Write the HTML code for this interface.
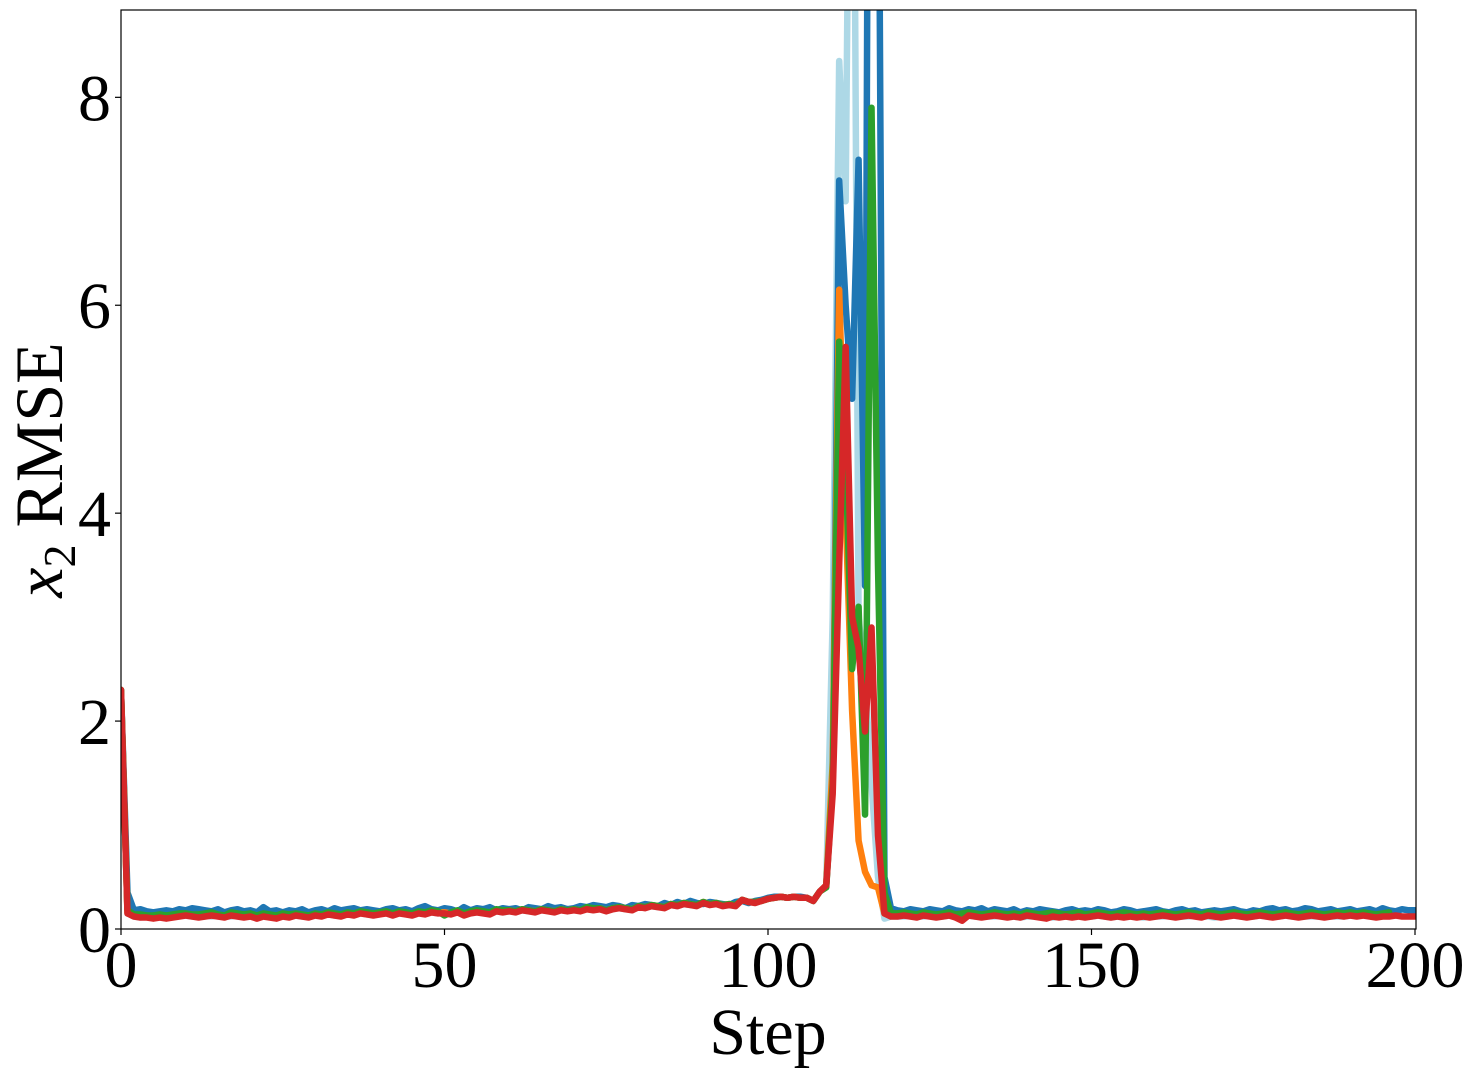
<!DOCTYPE html>
<html><head><meta charset="utf-8"><style>
body{margin:0;background:#fff;}
svg{display:block;font-family:"Liberation Serif",serif;}
</style></head><body>
<svg id="chart" width="1475" height="1076" viewBox="0 0 1475 1076" xmlns="http://www.w3.org/2000/svg">
<defs><clipPath id="clip"><rect x="121" y="10" width="1295" height="919"/></clipPath></defs>
<rect x="0" y="0" width="1475" height="1076" fill="#fff"/>
<g id="series" clip-path="url(#clip)"></g>
<rect x="121" y="10" width="1295" height="919" fill="none" stroke="#000" stroke-width="1.2"/>
<g id="axes"></g>
<text x="768" y="1054" font-size="66" text-anchor="middle">Step</text>
<text transform="translate(62,470) rotate(-90)" font-size="68" text-anchor="middle"><tspan font-style="italic">x</tspan><tspan font-size="46" dy="13">2</tspan><tspan dy="-13"> RMSE</tspan></text>
</svg>
<script>
const xTicks=[0,50,100,150,200];
const yTicks=[0,2,4,6,8];
const lightBlue=[2.3,0.15,0.12,0.11,0.12,0.11,0.12,0.11,0.12,0.13,0.13,0.12,0.12,0.13,0.12,0.13,0.12,0.12,0.13,0.12,0.12,0.11,0.13,0.12,0.11,0.12,0.12,0.13,0.12,0.12,0.14,0.13,0.14,0.13,0.13,0.14,0.14,0.15,0.14,0.14,0.15,0.15,0.14,0.15,0.15,0.14,0.16,0.15,0.16,0.15,0.16,0.15,0.16,0.15,0.16,0.16,0.16,0.15,0.17,0.16,0.17,0.17,0.18,0.17,0.17,0.18,0.18,0.17,0.18,0.18,0.19,0.18,0.2,0.19,0.19,0.18,0.2,0.2,0.19,0.19,0.21,0.21,0.22,0.21,0.21,0.23,0.22,0.24,0.23,0.23,0.25,0.24,0.24,0.23,0.23,0.23,0.28,0.26,0.26,0.27,0.29,0.3,0.31,0.3,0.31,0.3,0.3,0.27,0.36,0.42,3.0,8.35,7,14,3.0,2.4,1.4,0.5,0.1,0.12,0.12,0.12,0.13,0.12,0.12,0.13,0.12,0.12,0.13,0.12,0.12,0.13,0.12,0.13,0.12,0.12,0.13,0.12,0.12,0.11,0.12,0.12,0.13,0.12,0.11,0.12,0.12,0.12,0.13,0.12,0.12,0.13,0.12,0.11,0.12,0.12,0.13,0.12,0.11,0.12,0.12,0.12,0.13,0.12,0.12,0.12,0.13,0.12,0.12,0.11,0.12,0.12,0.13,0.12,0.12,0.12,0.13,0.12,0.12,0.12,0.13,0.12,0.13,0.12,0.12,0.12,0.13,0.12,0.12,0.12,0.13];
const blue=[2.3,0.35,0.18,0.19,0.17,0.16,0.17,0.18,0.17,0.19,0.18,0.2,0.19,0.18,0.17,0.19,0.16,0.18,0.19,0.17,0.18,0.16,0.21,0.17,0.18,0.16,0.18,0.17,0.19,0.16,0.18,0.19,0.17,0.2,0.18,0.19,0.2,0.18,0.19,0.18,0.17,0.19,0.2,0.18,0.19,0.17,0.2,0.22,0.19,0.18,0.2,0.19,0.17,0.21,0.18,0.2,0.19,0.21,0.18,0.2,0.19,0.2,0.18,0.21,0.2,0.19,0.22,0.2,0.21,0.19,0.2,0.22,0.21,0.23,0.22,0.21,0.23,0.22,0.2,0.23,0.22,0.24,0.23,0.22,0.25,0.23,0.26,0.24,0.27,0.25,0.24,0.26,0.25,0.24,0.23,0.26,0.27,0.25,0.27,0.28,0.3,0.31,0.31,0.3,0.31,0.31,0.3,0.27,0.36,0.42,1.4,7.2,6.0,5.1,7.4,3.3,20,12,0.5,0.2,0.18,0.17,0.19,0.18,0.17,0.19,0.18,0.17,0.2,0.18,0.17,0.19,0.18,0.2,0.17,0.19,0.18,0.17,0.19,0.16,0.18,0.17,0.19,0.18,0.17,0.16,0.18,0.19,0.17,0.18,0.17,0.19,0.18,0.16,0.17,0.19,0.18,0.16,0.17,0.18,0.19,0.17,0.16,0.18,0.19,0.17,0.18,0.16,0.17,0.18,0.17,0.18,0.19,0.17,0.16,0.18,0.17,0.19,0.2,0.18,0.19,0.17,0.18,0.2,0.19,0.17,0.18,0.19,0.17,0.18,0.19,0.17,0.18,0.19,0.17,0.2,0.18,0.17,0.19,0.18,0.18];
const orange=[2.3,0.16,0.13,0.12,0.12,0.11,0.12,0.11,0.12,0.13,0.14,0.13,0.12,0.13,0.14,0.13,0.12,0.14,0.13,0.12,0.13,0.11,0.13,0.12,0.11,0.13,0.12,0.14,0.13,0.12,0.14,0.13,0.15,0.14,0.13,0.15,0.14,0.16,0.15,0.14,0.15,0.16,0.14,0.16,0.15,0.14,0.16,0.15,0.17,0.16,0.16,0.15,0.17,0.14,0.16,0.17,0.16,0.15,0.18,0.17,0.18,0.17,0.19,0.18,0.17,0.19,0.18,0.17,0.19,0.18,0.19,0.18,0.2,0.19,0.2,0.18,0.2,0.21,0.2,0.19,0.22,0.21,0.23,0.22,0.21,0.24,0.23,0.25,0.24,0.23,0.26,0.24,0.25,0.23,0.24,0.23,0.28,0.26,0.26,0.27,0.29,0.3,0.31,0.3,0.31,0.3,0.3,0.27,0.36,0.42,1.6,6.15,4.0,2.1,0.85,0.55,0.42,0.4,0.15,0.13,0.13,0.14,0.13,0.12,0.14,0.13,0.12,0.13,0.14,0.12,0.13,0.14,0.13,0.12,0.13,0.14,0.13,0.12,0.13,0.12,0.14,0.13,0.12,0.13,0.14,0.13,0.12,0.13,0.14,0.12,0.13,0.14,0.13,0.12,0.13,0.14,0.13,0.12,0.13,0.12,0.13,0.14,0.13,0.12,0.13,0.14,0.13,0.12,0.14,0.13,0.12,0.13,0.14,0.13,0.12,0.13,0.14,0.13,0.12,0.13,0.14,0.13,0.12,0.13,0.14,0.13,0.12,0.13,0.14,0.13,0.14,0.13,0.14,0.13,0.12,0.13,0.14];
const green=[2.3,0.18,0.14,0.14,0.13,0.13,0.14,0.13,0.14,0.15,0.15,0.14,0.14,0.15,0.16,0.14,0.13,0.16,0.15,0.14,0.15,0.13,0.15,0.14,0.13,0.15,0.14,0.15,0.14,0.13,0.15,0.14,0.16,0.15,0.14,0.16,0.15,0.17,0.16,0.15,0.16,0.17,0.15,0.17,0.16,0.15,0.17,0.16,0.18,0.17,0.13,0.16,0.18,0.15,0.17,0.18,0.17,0.16,0.19,0.18,0.18,0.17,0.19,0.18,0.17,0.19,0.18,0.17,0.19,0.18,0.19,0.18,0.21,0.2,0.2,0.18,0.2,0.21,0.2,0.19,0.22,0.21,0.23,0.22,0.21,0.24,0.23,0.25,0.24,0.23,0.26,0.24,0.25,0.23,0.24,0.23,0.28,0.26,0.26,0.27,0.29,0.3,0.31,0.3,0.31,0.3,0.3,0.27,0.36,0.4,1.4,5.65,4.5,2.5,3.1,1.1,7.9,3.5,0.35,0.15,0.15,0.16,0.15,0.14,0.16,0.15,0.14,0.15,0.16,0.14,0.15,0.16,0.15,0.14,0.15,0.16,0.15,0.14,0.15,0.14,0.16,0.15,0.14,0.15,0.16,0.15,0.14,0.15,0.16,0.14,0.15,0.16,0.15,0.14,0.15,0.16,0.15,0.14,0.15,0.14,0.15,0.16,0.15,0.14,0.15,0.16,0.15,0.14,0.16,0.15,0.14,0.15,0.16,0.15,0.14,0.15,0.16,0.15,0.14,0.15,0.16,0.15,0.14,0.15,0.16,0.15,0.14,0.15,0.16,0.15,0.16,0.15,0.16,0.15,0.14,0.15,0.16];
const red=[2.3,0.15,0.12,0.11,0.11,0.1,0.11,0.1,0.11,0.12,0.13,0.12,0.11,0.12,0.13,0.12,0.11,0.13,0.12,0.11,0.12,0.1,0.12,0.11,0.1,0.12,0.11,0.13,0.12,0.11,0.13,0.12,0.14,0.13,0.12,0.14,0.13,0.15,0.14,0.13,0.14,0.15,0.13,0.15,0.14,0.13,0.15,0.14,0.16,0.15,0.15,0.14,0.16,0.13,0.15,0.16,0.15,0.14,0.17,0.16,0.17,0.16,0.18,0.17,0.16,0.18,0.17,0.16,0.18,0.17,0.18,0.17,0.19,0.18,0.19,0.17,0.19,0.2,0.19,0.18,0.21,0.2,0.22,0.21,0.2,0.23,0.22,0.24,0.23,0.22,0.25,0.23,0.24,0.22,0.23,0.22,0.28,0.26,0.25,0.27,0.29,0.3,0.31,0.3,0.31,0.3,0.3,0.27,0.36,0.42,1.3,3.5,5.6,3.0,2.7,1.9,2.9,0.9,0.15,0.12,0.12,0.13,0.12,0.11,0.13,0.12,0.11,0.12,0.13,0.11,0.08,0.13,0.12,0.11,0.12,0.13,0.12,0.11,0.12,0.11,0.13,0.12,0.11,0.1,0.12,0.11,0.12,0.11,0.12,0.11,0.12,0.13,0.12,0.11,0.12,0.11,0.12,0.11,0.12,0.11,0.12,0.13,0.12,0.11,0.12,0.13,0.12,0.11,0.13,0.12,0.11,0.12,0.13,0.12,0.11,0.12,0.13,0.12,0.11,0.12,0.13,0.12,0.11,0.12,0.13,0.12,0.11,0.12,0.13,0.12,0.13,0.12,0.13,0.12,0.11,0.12,0.12,0.13,0.12,0.12,0.12];

const X0=121,X1=1415,Y0=929,YMAX=8.84,YTOP=10;
const xS=v=>X0+(v/200)*(X1-X0);
const yS=v=>Y0-(v/YMAX)*(Y0-YTOP);
const NS='http://www.w3.org/2000/svg';
const gS=document.getElementById('series');
const gA=document.getElementById('axes');
function drawLine(arr,color,name){
  const p=document.createElementNS(NS,'polyline');
  p.setAttribute('points',arr.slice(0,201).map((v,i)=>xS(i).toFixed(2)+','+yS(v).toFixed(2)).join(' '));
  p.setAttribute('fill','none');p.setAttribute('stroke',color);
  p.setAttribute('stroke-width','6.5');p.setAttribute('stroke-linejoin','round');p.setAttribute('stroke-linecap','round');
  
  
  gS.appendChild(p);
}
drawLine(lightBlue,'#add8e6','series-light-blue');
drawLine(blue,'#1f77b4','series-blue');
drawLine(orange,'#ff7f0e','series-orange');
drawLine(green,'#2ca02c','series-green');
drawLine(red,'#d62728','series-red');
xTicks.forEach(t=>{
  const l=document.createElementNS(NS,'line');
  l.setAttribute('x1',xS(t));l.setAttribute('x2',xS(t));l.setAttribute('y1',Y0);l.setAttribute('y2',Y0+6);l.setAttribute('stroke','#000');l.setAttribute('stroke-width','1.2');
  
  
  gA.appendChild(l);
  const tx=document.createElementNS(NS,'text');
  tx.setAttribute('x',xS(t));tx.setAttribute('y',987);tx.setAttribute('font-size','66');tx.setAttribute('text-anchor','middle');
  tx.textContent=t;
  
  
  gA.appendChild(tx);
});
yTicks.forEach(t=>{
  const l=document.createElementNS(NS,'line');
  l.setAttribute('x1',X0-6);l.setAttribute('x2',X0);l.setAttribute('y1',yS(t));l.setAttribute('y2',yS(t));l.setAttribute('stroke','#000');l.setAttribute('stroke-width','1.2');
  
  
  gA.appendChild(l);
  const tx=document.createElementNS(NS,'text');
  tx.setAttribute('x',X0-10);tx.setAttribute('y',yS(t)+23);tx.setAttribute('font-size','66');tx.setAttribute('text-anchor','end');
  tx.textContent=t;
  
  
  gA.appendChild(tx);
});
</script>
</body></html>
